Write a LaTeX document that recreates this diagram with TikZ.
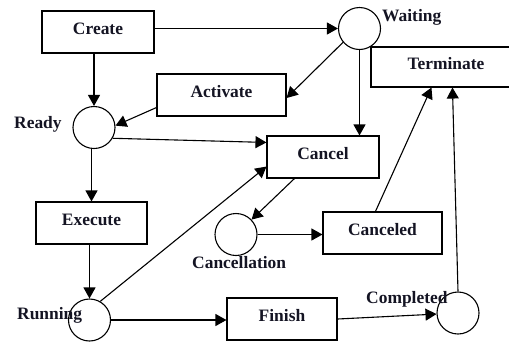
\documentclass[tikz,border=0pt]{standalone}
\usepackage{fontspec}
\setmainfont{Liberation Serif}
\usetikzlibrary{arrows.meta,calc}
\definecolor{ink}{RGB}{20,20,35}
\newcommand\lblfont{\bfseries\fontsize{17.5}{20}\selectfont}
\tikzset{
  box/.style={draw, line width=1.1bp, minimum width=#1, minimum height=42bp,
    inner sep=0pt, text height=12bp, text depth=7.4bp, font=\lblfont, text=ink},
  place/.style={draw, circle, line width=1.1bp, minimum size=42bp, inner sep=0pt},
  tag/.style={anchor=base west, inner sep=0pt, font=\lblfont, text=ink},
  flow/.style={line width=1.1bp, -{Triangle[length=11bp,width=12bp]}}
}
\begin{document}
\begin{tikzpicture}[x=1bp,y=-1bp]
\useasboundingbox (0,0) rectangle (509,343);

% transitions
\node[box=112bp] (create) at (98,32) {Create};
\node[box=129bp] (activate) at (221.5,95) {Activate};
\node[box=150bp, minimum height=40bp] (terminate) at (446,67) {Terminate};
\node[box=112bp] (cancel) at (323,157) {Cancel};
\node[box=111bp] (execute) at (91.5,223) {Execute};
\node[box=119bp] (canceled) at (382.5,233) {Canceled};
\node[box=110bp] (finish) at (282,319) {Finish};

% places
\node[place] (ready) at (94,127.5) {};
\node[place] (waiting) at (359.5,28.5) {};
\node[place] (running) at (89.5,320) {};
\node[place] (cancellation) at (236,234.5) {};
\node[place] (completed) at (458,313) {};

% place names
\node[tag] (lwaiting) at (382,21) {Waiting};
\node[tag] (lready) at (14,128) {Ready};
\node[tag] (lrunning) at (17,319) {Running};
\node[tag] (lcancellation) at (192,268) {Cancellation};
\node[tag] (lcompleted) at (366,303) {Completed};

% arcs
\draw[flow] (create.east |- waiting.west) -- (waiting.west);
\draw[flow] (ready |- create.south) -- (ready.north);
\draw[flow] ($(activate.south west)+(0,-9)$) -- (ready.5);
\draw[flow] (waiting.220) -- ($(activate.east)+(0,3)$);
\draw[flow] (waiting.south) -- (waiting.south |- cancel.north);
\draw[flow] (ready.-30) -- ($(cancel.north west)+(0,7)$);
\draw[flow] (execute |- ready.south) -- (execute.north);
\draw[flow] (running |- execute.south) -- (running.north);
\draw[flow] (running.60) -- ($(cancel.south west)+(0,-12)$);
\draw[flow] ($(cancel.south west)+(28,0)$) -- (cancellation);
\draw[flow] (cancellation.east) -- (cancellation.east -| canceled.west);
\draw[flow] ($(canceled.north west)+(53,0)$) -- ($(terminate.south west)+(61,0)$);
\draw[flow] (completed.north) -- ($(terminate.south west)+(82,0)$);
\draw[flow] (running.east) -- (running.east -| finish.west);
\draw[flow] (finish.east) -- (completed);
\end{tikzpicture}
\end{document}
